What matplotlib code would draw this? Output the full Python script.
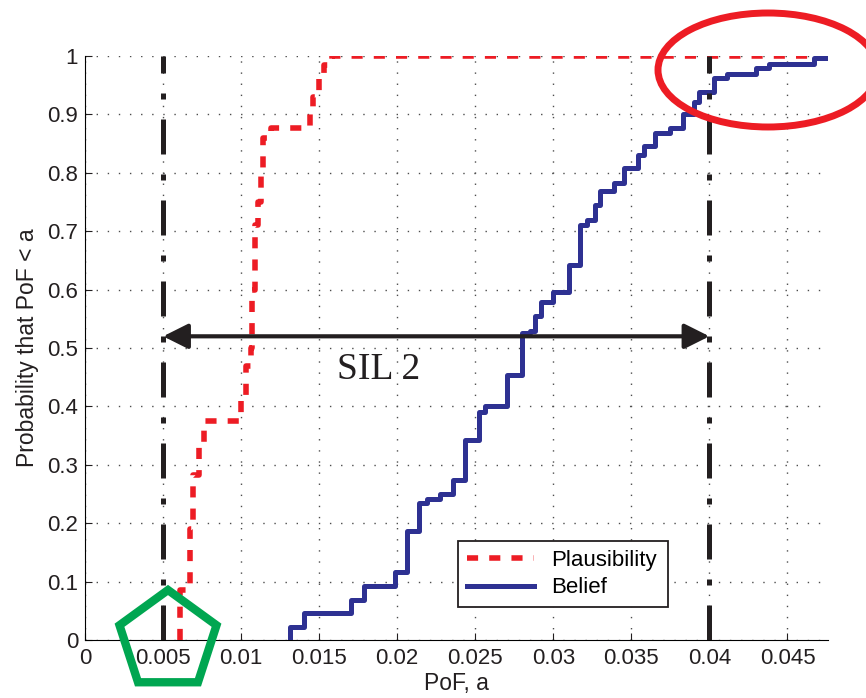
import matplotlib
matplotlib.use("Agg")
import matplotlib.pyplot as plt
from matplotlib.patches import Ellipse, RegularPolygon

plt.rcParams['font.family'] = ['Liberation Sans', 'DejaVu Sans']

# step curves (steps-post: value holds until next x)
plaus_x = [0.00609, 0.00609, 0.0067, 0.0069, 0.0073, 0.0076, 0.0100, 0.0103,
           0.0106, 0.0107, 0.0109, 0.0111, 0.0113, 0.0114, 0.0119, 0.0144,
           0.0146, 0.0150, 0.0153, 0.0158, 0.0476]
plaus_y = [0.0, 0.085, 0.19, 0.282, 0.33, 0.375, 0.41, 0.47,
           0.50, 0.60, 0.71, 0.75, 0.80, 0.86, 0.876, 0.90,
           0.93, 0.96, 0.985, 1.0, 1.0]

belief_x = [0.01314, 0.01314, 0.0140, 0.01705, 0.01784, 0.01987, 0.0206, 0.0214,
            0.0219, 0.02276, 0.02357, 0.02436, 0.02526, 0.0256, 0.0270, 0.0280,
            0.02853, 0.0288, 0.0292, 0.0300, 0.0310, 0.0317, 0.03215, 0.0327,
            0.0330, 0.0339, 0.0345, 0.0354, 0.0358, 0.0365, 0.0375, 0.0383,
            0.0390, 0.0393, 0.0403, 0.0411, 0.0430, 0.0438, 0.0467, 0.0476]
belief_y = [0.005, 0.023, 0.046, 0.068, 0.092, 0.117, 0.187, 0.234,
            0.241, 0.25, 0.274, 0.342, 0.391, 0.40, 0.454, 0.525,
            0.529, 0.554, 0.579, 0.596, 0.642, 0.711, 0.72, 0.745,
            0.768, 0.782, 0.808, 0.830, 0.846, 0.868, 0.876, 0.90,
            0.921, 0.939, 0.962, 0.970, 0.979, 0.987, 0.996, 0.996]

sil_bounds = [0.005, 0.04]
arrow_level = 0.52
x_ticks = [0, 0.005, 0.01, 0.015, 0.02, 0.025, 0.03, 0.035, 0.04, 0.045]
x_labels = ['0', '0.005', '0.01', '0.015', '0.02', '0.025', '0.03', '0.035', '0.04', '0.045']
y_ticks = [0, 0.1, 0.2, 0.3, 0.4, 0.5, 0.6, 0.7, 0.8, 0.9, 1]
y_labels = ['0', '0.1', '0.2', '0.3', '0.4', '0.5', '0.6', '0.7', '0.8', '0.9', '1']

red = '#ED1C24'
blue = '#2E3192'
green = '#00A651'
ink = '#231F20'

fig = plt.figure(figsize=(8.66, 6.98), dpi=100)
ax = fig.add_axes([0.0982, 0.0831, 0.858, 0.8367])

ax.plot(plaus_x, plaus_y, drawstyle='steps-post', color=red, lw=4,
        linestyle=(0, (2.0, 2.0)), label='Plausibility', zorder=3)
ax.plot(belief_x, belief_y, drawstyle='steps-post', color=blue, lw=3.6,
        label='Belief', zorder=3)

# SIL 2 band limits
for xb in sil_bounds:
    ax.axvline(xb, color=ink, lw=3.6, linestyle=(0, (7.0, 4.0, 1.2, 4.0)), zorder=4)

ax.annotate('', xy=(sil_bounds[0], arrow_level), xytext=(sil_bounds[1], arrow_level),
            arrowprops=dict(arrowstyle='<|-|>,head_length=0.4,head_width=0.2',
                            lw=3, color=ink, mutation_scale=38,
                            shrinkA=0, shrinkB=0), zorder=5)
ax.text(0.0188, 0.462, 'SIL 2', fontsize=27, ha='center', va='center',
        family=['Liberation Serif', 'DejaVu Serif'], color=ink)

ax.set_xlim(0, 0.0476)
ax.set_ylim(0, 1)
ax.set_xticks(x_ticks)
ax.set_xticklabels(x_labels)
ax.set_yticks(y_ticks)
ax.set_yticklabels(y_labels)
ax.tick_params(direction='in', length=5, labelsize=16, colors=ink)
ax.tick_params(axis='x', pad=6)
ax.tick_params(axis='y', pad=5)
ax.grid(True, color='0.3', lw=1.0, linestyle=(0, (1, 7)))
ax.set_axisbelow(True)
ax.spines['top'].set_visible(False)
ax.spines['right'].set_visible(False)

ax.set_xlabel('PoF, a', fontsize=16.5, labelpad=2, color=ink)
ax.set_ylabel('Probability that PoF < a', fontsize=16.5, labelpad=6, color=ink)

leg = ax.legend(loc='lower left', bbox_to_anchor=(0.502, 0.056, 0.283, 0.12),
                mode='expand', fontsize=16, fancybox=False, framealpha=1,
                edgecolor=ink, handlelength=3.0, borderaxespad=0,
                labelspacing=0.3)
leg.get_frame().set_linewidth(1.3)

# highlight marks drawn on the figure
ell = Ellipse((7.68, 6.28), 2.2, 1.14, transform=fig.dpi_scale_trans,
              fill=False, edgecolor=red, lw=5, clip_on=False)
fig.patches.append(ell)
pent = RegularPolygon((1.68, 0.57), 5, radius=0.51, transform=fig.dpi_scale_trans,
                      fill=False, edgecolor=green, lw=6, clip_on=False)
fig.patches.append(pent)

fig.savefig('out.png', dpi=100)
